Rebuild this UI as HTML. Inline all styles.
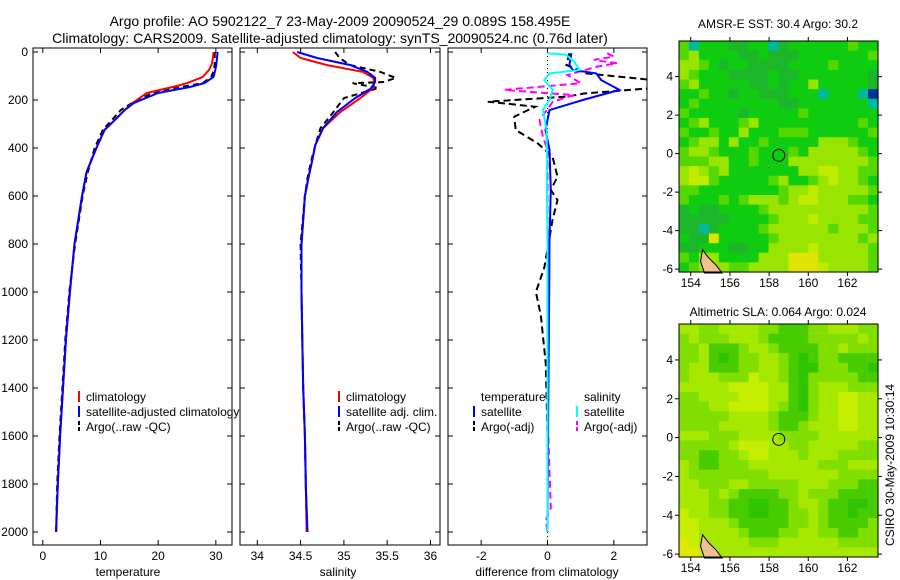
<!DOCTYPE html>
<html><head><meta charset="utf-8"><style>
html,body{margin:0;padding:0;background:#fff}
svg{display:block;font-family:"Liberation Sans",Arial,sans-serif}
</style></head><body>
<svg id="fig" width="900" height="580" viewBox="0 0 900 580">
<text x="340" y="26" font-size="14" text-anchor="middle">Argo profile: AO 5902122_7 23-May-2009 20090524_29 0.089S 158.495E</text>
<text x="330" y="43" font-size="14" text-anchor="middle">Climatology: CARS2009. Satellite-adjusted climatology: synTS_20090524.nc (0.76d later)</text>
<text x="778" y="28" font-size="12" text-anchor="middle">AMSR-E SST: 30.4  Argo: 30.2</text>
<text x="778" y="316" font-size="12" text-anchor="middle">Altimetric SLA: 0.064  Argo: 0.024</text>
<text transform="translate(894,465) rotate(-90)" font-size="12" text-anchor="middle">CSIRO 30-May-2009 10:30:14</text>
<text x="128" y="576" font-size="12" text-anchor="middle">temperature</text>
<text x="338" y="576" font-size="12" text-anchor="middle">salinity</text>
<text x="547" y="576" font-size="12" text-anchor="middle">difference from climatology</text>
<text x="326" y="517" font-size="12">US ARGO PROJECT</text>
<text x="326" y="532" font-size="12">PI: STEVE RISER</text>
</svg>
<script>
// ---- data ----
const depthT=[0,25,50,75,104,130,146,171,212,242,283,325,400,500,600,800,1000,1200,1400,1600,1800,2000];
const tempClim=[29.6,29.5,29.3,28.8,27.7,25,22.5,18,15.6,14.2,12.5,10.7,9.3,7.6,6.8,5.5,4.7,4.0,3.5,3.0,2.6,2.3];
const tempSat=[30.3,30.2,30.1,29.9,29.6,28,25.5,20,15.8,14.2,12.5,10.7,9.3,7.6,6.8,5.5,4.7,4.0,3.5,3.0,2.6,2.3];
const tempArgo=[29.8,29.8,29.8,29.7,29.2,27.7,24,19,15.5,13.5,12.0,10.4,9.0,7.8,6.9,5.6,4.6,3.9,3.4,2.9,2.5,2.3];
const depthS=[0,25,54,83,108,125,130,150,192,250,317,388,458,525,600,800,1000,1200,1400,1600,1800,2000];
const salClim=[34.41,34.5,34.8,35.22,35.34,35.35,35.35,35.34,35.19,34.96,34.76,34.67,34.63,34.59,34.55,34.51,34.51,34.52,34.53,34.55,34.56,34.57];
const salSat=[34.46,34.69,35.07,35.27,35.36,35.36,35.35,35.32,35.13,34.92,34.76,34.67,34.63,34.59,34.55,34.51,34.51,34.52,34.53,34.55,34.56,34.58];
const salArgo=[34.9,34.95,35.07,35.42,35.6,35.46,35.1,35.4,35.0,34.88,34.73,34.67,34.62,34.58,34.55,34.5,34.51,34.52,34.53,34.55,34.56,34.57];
const depthD1=[5,54,75,89,117,158,200,242,325,408,575,783,1000,1500,2000];
const dTempSat=[0.72,0.66,0.76,1.47,1.62,2.17,1.06,0.06,-0.06,0.06,0.1,0.06,0.05,0.02,0];
const depthD2=[5,12,40,75,89,117,158,200,242,330,541,800,1200,1600,2000];
const dSalSat=[0,0.57,0.8,0.97,0.06,-0.1,0.16,0.06,-0.14,-0.02,-0.02,0,0,0,0];
const depthD3=[5,54,89,117,150,173,186,207,228,269,325,380,436,519,575,617,700,783,900,1000,1100,1300,1600,2000];
const dTempArgo=[0.66,0.57,1.17,3.2,3.2,1.1,0.6,-1.8,-0.37,-1.0,-0.96,-0.3,0.15,0.3,0.1,0.3,0.15,0.05,-0.1,-0.35,-0.2,-0.05,0,0];
const depthD4=[5,19,33,47,61,96,130,158,172,179,207,283,353,408,800,1500,1900,1950,2000];
const dSalArgo=[1.8,2.0,1.4,2.1,1.5,0.6,1.0,-1.3,0.06,0.8,0.16,-0.24,-0.14,0,0,0,0.1,-0.05,0];
const depthTicks=[0,200,400,600,800,1000,1200,1400,1600,1800,2000];
const tempTicks=[0,10,20,30];
const salTicks=[34,34.5,35,35.5,36];
const diffTicks=[-2,0,2];
const lonTicks=[154,156,158,160,162];
const latTicks=[-6,-4,-2,0,2,4];
const sstGrid=[
"ctaaabbaatbaaaaaacaa","cdaaaabbabbbaaaaaaac","ddcabaabbbbaaaacaaaa","dcaaabbbbabbaaaaaaab",
"cdaaaaabbabaadaaaaab","aacaabaabbbaaataaatn","acaaaaaaaabbaaaaaaat","caaaaabaaaaacaaaaaaa",
"acdaaacdaaaaaaaaaaca","caacaadaaacccaaaaaac","acddadaacaaaaadddcaa","cddcaaacaaacadddddca",
"cccddaacaaaddddddddc","dedcdaaaaaaaddeeddcc","deecaaaaacdaacdeddca","ccaaaaaaaacddedddddc",
"caaacacdddcdeedddcca","babbaaaacddddddddddc","bbbbbaaaacdddeddddcc","bbtbaaaacddddddcdddc",
"abbfaaaaacddddddddcd","bbaaabbaaddddedddddc","caddaaaadddfffdddddc","acdddccddddfffeddddc"];
const slaGrid=[
"ddccddddccbbbccdddcc","cdcccdddcbbbbcccccdc","ccdbbbcddcbbbbccdccc","ccdbabccddcbabccbbbb",
"cddbbbccddcbaacccbba","cdddccceddcbacccccbb","dddddeeeeddbacdddccc","ccddddeeeddbacddeedd",
"cccddeeeedcbacddeedd","cccccddddcbbbcddeedd","ccccdddddcbbcdddeedd","dddcccddddccccdddddd",
"cccccdeeeddccdddddcc","ccbbccdeedddcdddcccc","dcbbcccdddddddcccddd","dccccccccdddddddcccc",
"ddcccddcccccdddcccbb","dddcdcbbbbccdcccbbbb","dddccbbaabbcddcbbaab","eddccbbaabbccdcbbabb",
"eedddcbbbbbccdcbbbbc","eeddddcbbbccddccbbcc","fedddddcccddddddcccc","ffeddddddddddddddddd"];
const argoLon=158.495, argoLat=-0.089;
// ---- drawing ----
const NS="http://www.w3.org/2000/svg";
const svg=document.getElementById('fig');
function mk(tag,attrs,parent){const e=document.createElementNS(NS,tag);for(const k in attrs)e.setAttribute(k,attrs[k]);(parent||svg).appendChild(e);return e;}
const Y0=52, YK=0.24, PT=48, PB=545;
const yD=d=>Y0+d*YK;
const panels=[
 {x0:33,x1:232,lo:-1.7,hi:32.8,ticks:tempTicks,name:'temperature'},
 {x0:240,x1:440,lo:33.8,hi:36.11,ticks:salTicks,name:'salinity'},
 {x0:448,x1:647,lo:-3.0,hi:3.0,ticks:diffTicks,name:'difference'}];
panels.forEach(p=>{p.sx=v=>p.x0+(v-p.lo)/(p.hi-p.lo)*(p.x1-p.x0);});
function line(p,ds,vs,color,w,dash,name){
  let d='';ds.forEach((dd,i)=>{d+=(i?'L':'M')+p.sx(vs[i]).toFixed(1)+','+yD(dd).toFixed(1);});
  const e=mk('path',{d:d,fill:'none',stroke:color,'stroke-width':w,'clip-path':'url(#clip-'+p.name+')'});
  if(dash)e.setAttribute('stroke-dasharray',dash);
  
  
}
const defs=mk('defs',{});
panels.forEach((p,i)=>{
  const cp=mk('clipPath',{id:'clip-'+p.name},defs);
  mk('rect',{x:p.x0,y:PT,width:p.x1-p.x0,height:PB-PT},cp);
  const fr=mk('rect',{x:p.x0,y:PT,width:p.x1-p.x0,height:PB-PT,fill:'#fff',stroke:'#000','stroke-width':1});
  
  
  depthTicks.forEach(d=>{
    mk('line',{x1:p.x0,x2:p.x0+5,y1:yD(d),y2:yD(d),stroke:'#000'});
    mk('line',{x1:p.x1,x2:p.x1-5,y1:yD(d),y2:yD(d),stroke:'#000'});
    if(i===0){const t=mk('text',{x:28,y:yD(d)+4,'font-size':12,'text-anchor':'end'});t.textContent=d;
      
      }
  });
  p.ticks.forEach(v=>{
    const x=p.sx(v);
    mk('line',{x1:x,x2:x,y1:PT,y2:PT+5,stroke:'#000'});
    mk('line',{x1:x,x2:x,y1:PB,y2:PB-5,stroke:'#000'});
    const t=mk('text',{x:x,y:560,'font-size':12,'text-anchor':'middle'});t.textContent=v;
    
    
  });
});
const P1=panels[0],P2=panels[1],P3=panels[2];
line(P1,depthT,tempArgo,'#000',2,'6,4','argo-temperature-line');
line(P1,depthT,tempClim,'#f00',2,null,'climatology-temperature-line');
line(P1,depthT,tempSat,'#00f',2,null,'satellite-temperature-line');
line(P2,depthS,salArgo,'#000',2,'6,4','argo-salinity-line');
line(P2,depthS,salClim,'#f00',2,null,'climatology-salinity-line');
line(P2,depthS,salSat,'#00f',2,null,'satellite-salinity-line');
mk('line',{x1:P3.sx(0),x2:P3.sx(0),y1:PT,y2:PB,stroke:'#000','stroke-dasharray':'1,3'});
line(P3,depthD3,dTempArgo,'#000',2,'7,4','argo-temperature-diff-line');
line(P3,depthD4,dSalArgo,'#f0f',2,'7,4','argo-salinity-diff-line');
line(P3,depthD1,dTempSat,'#00f',2,null,'satellite-temperature-diff-line');
line(P3,depthD2,dSalSat,'#0ff',2,null,'satellite-salinity-diff-line');
function legend(x,y,color,dash,label,name){
  const l=mk('line',{x1:x,x2:x,y1:y-10,y2:y+1,stroke:color,'stroke-width':2});
  if(dash)l.setAttribute('stroke-dasharray','4,2');
  const t=mk('text',{x:x+7,y:y,'font-size':12});t.textContent=label;
  
  
}
legend(79,401,'#f00',0,'climatology','legend-climatology');
legend(79,416,'#00f',0,'satellite-adjusted climatology','legend-satellite-adjusted');
legend(79,431,'#000',1,'Argo(..raw -QC)','legend-argo');
legend(339,401,'#f00',0,'climatology','legend-sal-climatology');
legend(339,416,'#00f',0,'satellite adj. clim.','legend-sal-satellite');
legend(339,431,'#000',1,'Argo(..raw -QC)','legend-sal-argo');
[['temperature',481,401],['salinity',584,401]].forEach(a=>{const t=mk('text',{x:a[1],y:a[2],'font-size':12});t.textContent=a[0];
  
  });
legend(474,416,'#00f',0,'satellite','legend-diff-temp-satellite');
legend(474,431,'#000',1,'Argo(-adj)','legend-diff-temp-argo');
legend(577,416,'#0ff',0,'satellite','legend-diff-sal-satellite');
legend(577,431,'#f0f',1,'Argo(-adj)','legend-diff-sal-argo');
// ---- maps ----
const sstCol={a:'#10cc10',b:'#1cb62a',c:'#55d800',d:'#99e400',e:'#c0ec00',f:'#e0e400',t:'#00b8a0',n:'#003399'};
const slaCol={a:'#2ec400',b:'#48cc00',c:'#80de00',d:'#a6e800',e:'#c6ee00',f:'#e0e800'};
function map(top,bot,grid,cols,name){
  const L=679,R=878,lonLo=153.4,lonHi=163.56,latHi=5.85,latLo=-6.15;
  const sx=v=>L+(v-lonLo)/(lonHi-lonLo)*(R-L), sy=v=>top+(latHi-v)/(latHi-latLo)*(bot-top);
  const g=mk('g',{});
  
  
  const nr=grid.length,nc=grid[0].length,cw=(R-L)/nc,ch=(bot-top)/nr;
  grid.forEach((row,r)=>{for(let c=0;c<nc;c++){
    mk('rect',{x:(L+c*cw).toFixed(2),y:(top+r*ch).toFixed(2),width:(cw+0.6).toFixed(2),height:(ch+0.6).toFixed(2),fill:cols[row[c]]},g);}});
  mk('path',{d:`M${sx(154.6)},${sy(-5.0)} L${sx(154.9)},${sy(-5.4)} L${sx(155.3)},${sy(-5.8)} L${sx(155.6)},${sy(-6.2)} L${sx(154.7)},${sy(-6.2)} L${sx(154.5)},${sy(-5.6)} Z`,fill:'#f0c090',stroke:'#000','stroke-width':1},g);
  const c=mk('circle',{cx:sx(argoLon),cy:sy(argoLat),r:6,fill:'none',stroke:'#000','stroke-width':1},g);
  
  
  mk('rect',{x:L,y:top,width:R-L,height:bot-top,fill:'none',stroke:'#000'},g);
  lonTicks.forEach(v=>{const x=sx(v);
    mk('line',{x1:x,x2:x,y1:bot,y2:bot+4,stroke:'#000'});mk('line',{x1:x,x2:x,y1:top,y2:top-4,stroke:'#000'});
    const t=mk('text',{x:x,y:bot+15,'font-size':12,'text-anchor':'middle'});t.textContent=v;
    
    });
  latTicks.forEach(v=>{const y=sy(v);
    mk('line',{x1:L,x2:L-4,y1:y,y2:y,stroke:'#000'});mk('line',{x1:R,x2:R+4,y1:y,y2:y,stroke:'#000'});
    const t=mk('text',{x:673,y:y+4,'font-size':12,'text-anchor':'end'});t.textContent=v;
    
    });
}
map(41,272,sstGrid,sstCol,'sst-map');
map(324,557,slaGrid,slaCol,'sla-map');
</script>
</body></html>
